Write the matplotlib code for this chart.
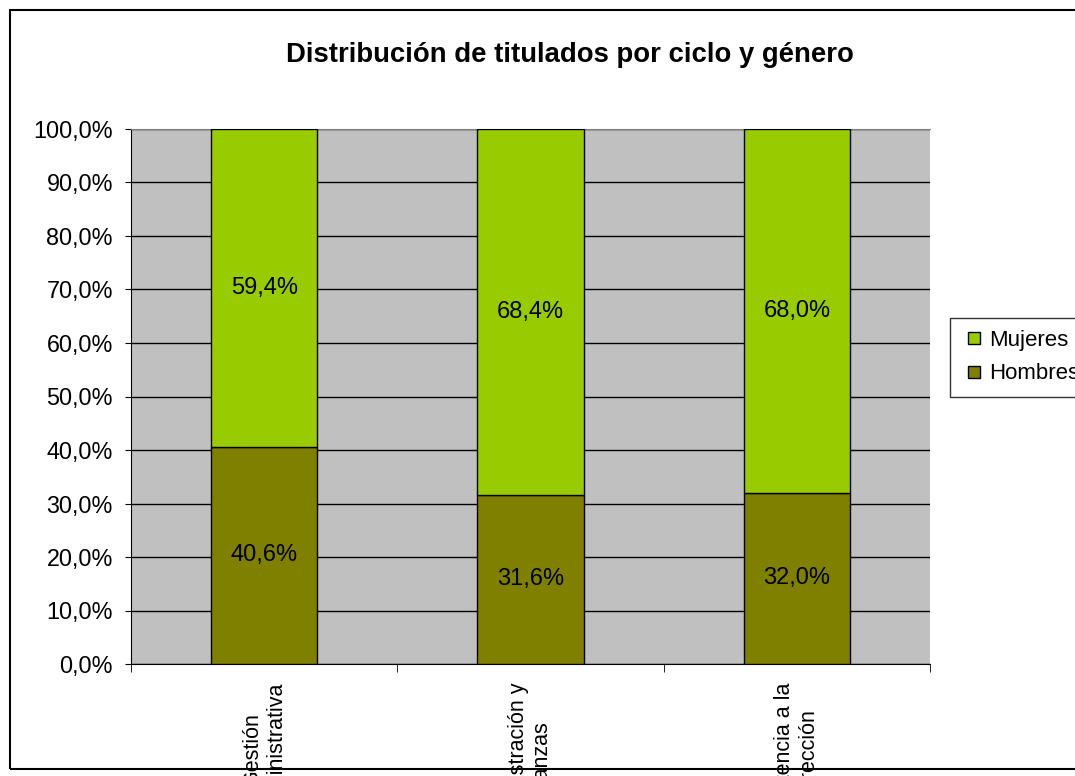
import matplotlib
matplotlib.use("Agg")
import matplotlib.pyplot as plt
from matplotlib.patches import Rectangle
from matplotlib.lines import Line2D
from matplotlib.ticker import FuncFormatter

plt.rcParams['font.family'] = ['Liberation Sans', 'DejaVu Sans']

# datos
ciclos = ["Gestión\nadministrativa", "Administración y\nfinanzas", "Asistencia a la\ndirección"]
hombres = [40.6, 31.6, 32.0]
mujeres = [59.4, 68.4, 68.0]

COLOR_HOMBRES = "#808000"
COLOR_MUJERES = "#99CC00"

fig = plt.figure(figsize=(10.75, 7.76), dpi=100)
ax = fig.add_axes([131 / 1075, 1 - 664 / 776, (930 - 131) / 1075, (664 - 129) / 776])

# borde exterior del gráfico (se sale por la derecha)
fig.patches.append(Rectangle((10 / 1075, 1 - 769 / 776), 1.05, (769 - 10) / 776,
                             transform=fig.transFigure, fill=False,
                             edgecolor="black", linewidth=1.5, zorder=10))

ax.set_facecolor("#C0C0C0")
x = list(range(len(ciclos)))
ax.bar(x, hombres, width=0.4, color=COLOR_HOMBRES, edgecolor="black",
       linewidth=1, zorder=3)
ax.bar(x, mujeres, width=0.4, bottom=hombres, color=COLOR_MUJERES,
       edgecolor="black", linewidth=1, zorder=3)

for i in x:
    ax.text(i, hombres[i] / 2, f"{hombres[i]:.1f}%".replace(".", ","),
            ha="center", va="center", fontsize=17, zorder=4)
    ax.text(i, hombres[i] + mujeres[i] / 2, f"{mujeres[i]:.1f}%".replace(".", ","),
            ha="center", va="center", fontsize=17, zorder=4)

ax.set_xlim(-0.5, 2.5)
ax.set_ylim(0, 100)
ax.set_yticks(range(0, 101, 10))
ax.yaxis.set_major_formatter(FuncFormatter(lambda v, p: f"{v:.1f}%".replace(".", ",")))
ax.grid(axis="y", color="black", linewidth=1, zorder=1)
ax.set_axisbelow(True)

ax.set_xticks(x)
ax.set_xticklabels(ciclos, rotation=90, va="top", ha="center", multialignment="center")
ax.set_xticks([-0.5, 0.5, 1.5, 2.5], minor=True)
ax.tick_params(axis="x", which="major", length=0, pad=13.5, labelsize=15.5)
ax.tick_params(axis="x", which="minor", length=6, direction="out", color="black")
ax.tick_params(axis="y", length=4, direction="out", labelsize=16.8, pad=9)

ax.spines["right"].set_visible(False)
ax.spines["top"].set_color("#808080")
ax.spines["left"].set_color("black")
ax.spines["bottom"].set_color("black")

fig.text(570 / 1075, 1 - 55 / 776, "Distribución de titulados por ciclo y género",
         ha="center", va="center", fontsize=19.8, fontweight="bold")

# leyenda con cuadraditos
handles = [
    Line2D([], [], linestyle="none", marker="s", markersize=8.8,
           markerfacecolor=COLOR_MUJERES, markeredgecolor="black", markeredgewidth=1),
    Line2D([], [], linestyle="none", marker="s", markersize=8.8,
           markerfacecolor=COLOR_HOMBRES, markeredgecolor="black", markeredgewidth=1),
]
leg = fig.legend(handles=handles, labels=["Mujeres", "Hombres"],
                 loc="upper left", bbox_to_anchor=(950 / 1075, 1 - 318 / 776),
                 fontsize=16, frameon=True, fancybox=False, edgecolor="black",
                 handlelength=1.1, handletextpad=0.1,
                 borderpad=0.55, labelspacing=0.55, borderaxespad=0)
leg.get_frame().set_linewidth(1)

fig.savefig("out.png", dpi=100)
